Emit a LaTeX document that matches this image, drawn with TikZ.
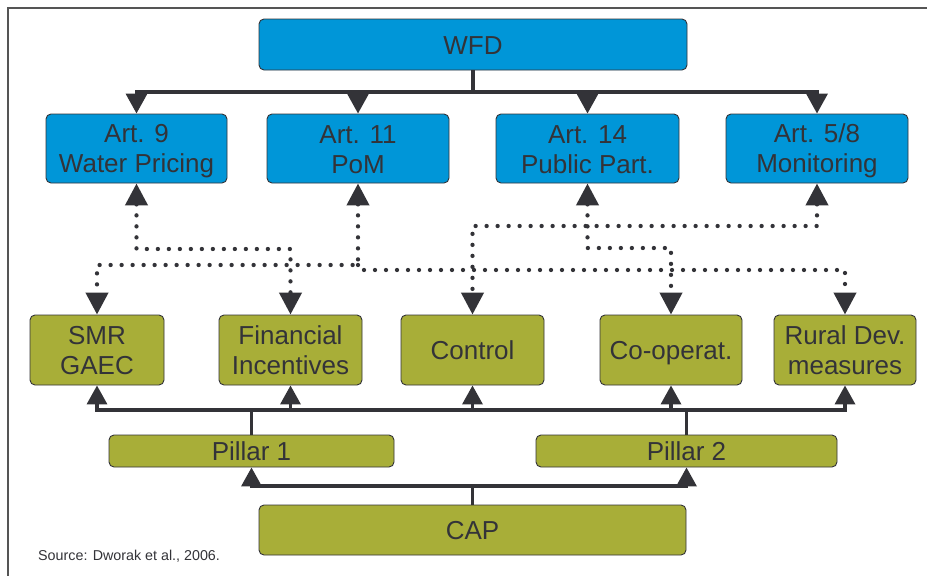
\documentclass[tikz,border=0pt]{standalone}
\usepackage{fontspec}
\setmainfont{Liberation Sans}
\usetikzlibrary{arrows.meta}
\definecolor{wfdblue}{RGB}{0,150,216}
\definecolor{capgreen}{RGB}{168,174,56}
\definecolor{ink}{RGB}{51,51,56}
\definecolor{framegray}{RGB}{85,85,85}
\newcommand{\boxtext}[1]{\rule{0pt}{24pt}#1\rule[-5pt]{0pt}{5pt}}
\begin{document}
\begin{tikzpicture}[x=1pt,y=-1pt,
  box/.style={draw=ink, line width=0.9pt, rounded corners=5pt, inner sep=0pt, align=center, text=ink, font=\fontsize{26}{30}\selectfont},
  bluebox/.style={box, fill=wfdblue},
  greenbox/.style={box, fill=capgreen},
  solidcon/.style={draw=ink, line width=3.5pt},
  tipT/.style={-{Triangle[length=20pt,width=21pt]}},
  tipS/.style={-{Triangle[length=19pt,width=20pt]}},
  dotcon/.style={draw=ink, line width=4.3pt, line cap=round, dash pattern=on 0pt off 11pt},
  tipD/.style={{Triangle[length=22pt,width=22pt]}-{Triangle[length=22pt,width=22pt]}},
  tipDend/.style={-{Triangle[length=22pt,width=22pt]}},
]
\useasboundingbox (0,0) rectangle (927,576);
\fill[white] (0,0) rectangle (927,576);
\draw[draw=framegray, line width=1.8pt] (8,590) -- (8,8) -- (940,8);

% top level
\node[bluebox, minimum width=428pt, minimum height=51pt] (wfd) at (473,44.5) {\boxtext{WFD}};
\node[bluebox, minimum width=181pt, minimum height=69pt] (a9) at (136.5,148.5) {\boxtext{Art. 9\\Water Pricing}};
\node[bluebox, minimum width=182pt, minimum height=69pt] (a11) at (358,148.5) {\boxtext{Art. 11\\PoM}};
\node[bluebox, minimum width=183pt, minimum height=69pt] (a14) at (587.5,148.5) {\boxtext{Art. 14\\Public Part.}};
\node[bluebox, minimum width=182pt, minimum height=69pt] (a58) at (817,148.5) {\boxtext{Art. 5/8\\Monitoring}};

% CAP instruments
\node[greenbox, minimum width=134pt, minimum height=70pt] (smr) at (97,350) {\boxtext{SMR\\GAEC}};
\node[greenbox, minimum width=143pt, minimum height=70pt] (fin) at (290.5,350) {\boxtext{Financial\\Incentives}};
\node[greenbox, minimum width=143pt, minimum height=70pt] (ctrl) at (472.5,350) {\boxtext{Control}};
\node[greenbox, minimum width=142pt, minimum height=70pt] (coop) at (671,350) {\boxtext{Co-operat.}};
\node[greenbox, minimum width=142pt, minimum height=70pt] (rural) at (845,350) {\boxtext{Rural Dev.\\measures}};

\node[greenbox, minimum width=285pt, minimum height=32pt] (p1) at (251.5,451) {\boxtext{Pillar 1}};
\node[greenbox, minimum width=301pt, minimum height=32pt] (p2) at (686.5,451) {\boxtext{Pillar 2}};
\node[greenbox, minimum width=427pt, minimum height=50pt] (cap) at (472.5,530) {\boxtext{CAP}};

\node[anchor=base west, inner sep=0pt, text=ink, font=\fontsize{14.3}{16}\selectfont] (src) at (38,560) {Source: Dworak et al., 2006.};

% WFD bus
\coordinate (bus1) at (473,92);
\draw[solidcon] (wfd.south) -- (wfd.south |- bus1);
\draw[solidcon, tipT] (wfd.south |- bus1) -| (a9.north);
\draw[solidcon, tipT] (wfd.south |- bus1) -| (a58.north);
\draw[solidcon, tipT] (a11.north |- bus1) -- (a11.north);
\draw[solidcon, tipT] (a14.north |- bus1) -- (a14.north);

% dotted links
\draw[dotcon, tipD] (a9.south) -- (a9.south |- 0,249) -| (fin.north);
\draw[dotcon, tipD] (a11.south) -- (a11.south |- 0,265) -| (smr.north);
\draw[dotcon, tipDend] (a11.south |- 0,265) -- (a11.south |- 0,270) -| (rural.north);
\draw[dotcon, tipD] (a14.south) -- (a14.south |- 0,248) -| (coop.north);
\draw[dotcon, tipD] (a58.south) -- (a58.south |- 0,226) -| (ctrl.north);

% pillar bus
\coordinate (bus2) at (473,410);
\draw[solidcon] (p1.north) -- (p1.north |- bus2);
\draw[solidcon] (p2.north) -- (p2.north |- bus2);
\draw[solidcon, tipS] (ctrl.south |- bus2) -| (smr.south);
\draw[solidcon, tipS] (ctrl.south |- bus2) -| (rural.south);
\draw[solidcon, tipS] (fin.south |- bus2) -- (fin.south);
\draw[solidcon, tipS] (ctrl.south |- bus2) -- (ctrl.south);
\draw[solidcon, tipS] (coop.south |- bus2) -- (coop.south);

% CAP bus
\coordinate (bus3) at (473,486);
\draw[solidcon] (cap.north) -- (cap.north |- bus3);
\draw[solidcon, tipS] (cap.north |- bus3) -| (p1.south);
\draw[solidcon, tipS] (cap.north |- bus3) -| (p2.south);
\end{tikzpicture}
\end{document}
